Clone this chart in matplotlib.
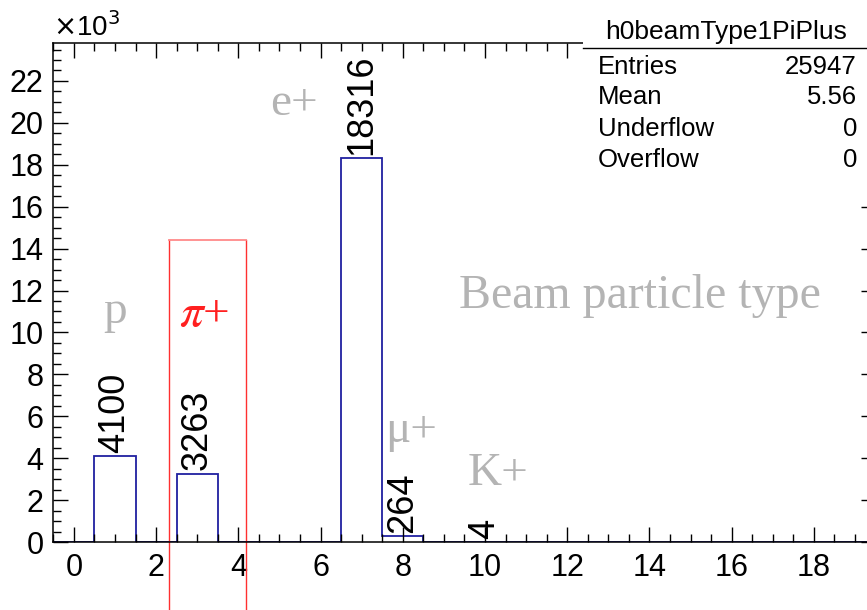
import numpy as np
import matplotlib
matplotlib.use("agg")
import matplotlib.pyplot as plt
from matplotlib.patches import Rectangle
from matplotlib.ticker import MultipleLocator, FuncFormatter

# histogram h0beamType1PiPlus, 20 bins from -0.5 to 19.5
bin_edges = np.arange(-0.5, 20.0, 1.0)
counts = [0, 4100, 0, 3263, 0, 0, 0, 18316, 264, 0, 4, 0, 0, 0, 0, 0, 0, 0, 0, 0]

stat_names = ["Entries", "Mean", "Underflow", "Overflow"]
stat_values = ["25947", "5.56", "0", "0"]
hist_name = "h0beamType1PiPlus"

plt.rcParams['font.family'] = ['Liberation Sans', 'DejaVu Sans']

fig = plt.figure(figsize=(8.67, 6.10), dpi=100)
ax = fig.add_axes([53.3/867, 68/610, 822.2/867, 499/610])

# histogram outline
ax.stairs(counts, bin_edges, color='#2020a0', linewidth=1.3, baseline=0)

# bin contents, TEXT90 style
centers = 0.5*(bin_edges[:-1] + bin_edges[1:])
for x, c in zip(centers, counts):
	if c > 0:
		ax.text(x, c + 150, str(c), rotation=90, ha='center', va='bottom', fontsize=26)

ax.set_xlim(-0.5, 19.5)
ax.set_ylim(0, 1.3*max(counts))

ax.xaxis.set_major_locator(MultipleLocator(2))
ax.xaxis.set_minor_locator(MultipleLocator(0.5))
ax.yaxis.set_major_locator(MultipleLocator(2000))
ax.yaxis.set_minor_locator(MultipleLocator(500))
ax.yaxis.set_major_formatter(FuncFormatter(lambda v, p: f"{v/1000:g}"))
ax.tick_params(which='both', direction='in', top=True, right=True, width=1.0, labelsize=22)
ax.tick_params(which='major', length=11)
ax.tick_params(which='minor', length=6)
ax.tick_params(axis='x', pad=8)
ax.tick_params(axis='y', pad=7)
for s in ax.spines.values():
	s.set_linewidth(1.1)

fig.text(53/867, 1 - 42/610, r'$\times$10$^{3}$', ha='left', va='bottom', fontsize=20)

# pi+ selection box
ax.plot([2.31, 2.31], [-5000, 14400], color='#ff3030', linewidth=1.0, clip_on=False)
ax.plot([4.18, 4.18], [-5000, 14400], color='#ff3030', linewidth=1.0, clip_on=False)
ax.plot([2.31, 4.18], [14400, 14400], color='#ff8a8a', linewidth=1.3, clip_on=False)

# particle labels
gray = '#b4b4b4'
serif = ['Liberation Serif', 'DejaVu Serif']
ax.text(0.72, 10450, 'p', color=gray, fontsize=34, family=serif, va='baseline')
ax.text(4.78, 20380, 'e+', color=gray, fontsize=34, family=serif, va='baseline')
ax.text(7.58, 4770, 'μ+', color=gray, fontsize=34, family=serif, va='baseline')
ax.text(9.58, 2720, 'K+', color=gray, fontsize=34, family=serif, va='baseline')
ax.text(9.36, 11170, 'Beam particle type', color=gray, fontsize=34.5, family=serif, va='baseline')
ax.text(2.55, 10310, r'$\pi$+', color='#ff2020', fontsize=34, family=serif,
	math_fontfamily='stix', va='baseline')

# stat box
fig.add_artist(Rectangle((583/867, 1 - 172/610), 1, 1, transform=fig.transFigure,
	facecolor='white', edgecolor='none', zorder=10))
fig.add_artist(plt.Line2D([583/867, 1], [1 - 48/610, 1 - 48/610], transform=fig.transFigure,
	color='black', linewidth=1.0, zorder=11))
fig.text(726/867, 1 - 32/610, hist_name, ha='center', va='center', fontsize=19, zorder=12)
row_y = [67, 97, 129, 160]
for name, val, yy in zip(stat_names, stat_values, row_y):
	fig.text(598/867, 1 - yy/610, name, ha='left', va='center', fontsize=18.5, zorder=12)
	fig.text(857/867, 1 - yy/610, val, ha='right', va='center', fontsize=18.5, zorder=12)

fig.savefig("out.png", dpi=100)
